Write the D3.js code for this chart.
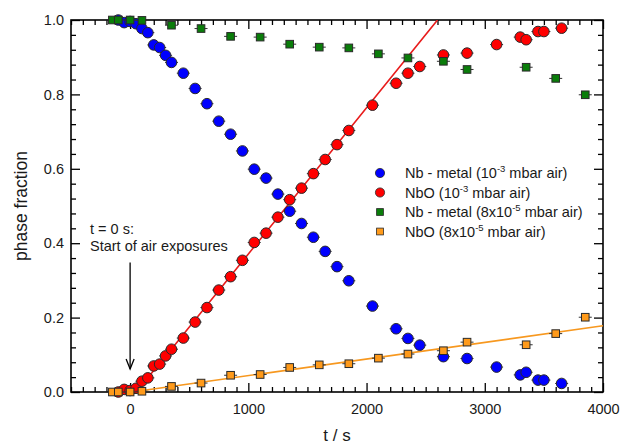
<!DOCTYPE html>
<html>
<head>
<meta charset="utf-8">
<script src="https://cdn.jsdelivr.net/npm/d3@7"></script>
<style>
  html, body { margin: 0; padding: 0; background: #fff; }
  svg { display: block; font-family: "Liberation Sans", Arial, sans-serif; }
</style>
</head>
<body>
<svg id="chart" width="620" height="446"></svg>
<script>
// ---- data: phase fractions during air exposure ----
// exposure at 1e-3 mbar air
const tHigh = [-100, -50, 0, 50, 100, 150, 200, 250, 300, 350, 450, 550, 650, 750, 850, 950,
  1050, 1150, 1250, 1350, 1450, 1550, 1650, 1750, 1850, 2050, 2250, 2350, 2450, 2650, 2850,
  3100, 3300, 3350, 3450, 3500, 3650];
const nbMetalHigh = [1.0, 0.993, 0.996, 0.99, 0.977, 0.966, 0.933, 0.926, 0.905, 0.886, 0.857,
  0.816, 0.775, 0.728, 0.693, 0.648, 0.599, 0.575, 0.532, 0.486, 0.453, 0.416, 0.378, 0.337,
  0.299, 0.231, 0.170, 0.144, 0.126, 0.095, 0.090, 0.067, 0.046, 0.053, 0.032, 0.032, 0.023];
const nboHigh = [0.0, 0.007, 0.004, 0.01, 0.029, 0.038, 0.07, 0.075, 0.097, 0.115, 0.145,
  0.188, 0.227, 0.274, 0.31, 0.354, 0.402, 0.427, 0.47, 0.517, 0.548, 0.587, 0.625, 0.665,
  0.703, 0.771, 0.83, 0.857, 0.875, 0.906, 0.911, 0.934, 0.954, 0.947, 0.969, 0.969, 0.978];

// exposure at 8e-5 mbar air
const tLow = [-150, -100, 0, 100, 350, 600, 850, 1100, 1350, 1600, 1850, 2100, 2350, 2650,
  2850, 3350, 3600, 3850];
const nbMetalLow = [1.0, 1.0, 1.0, 0.999, 0.986, 0.977, 0.956, 0.954, 0.935, 0.927, 0.925,
  0.909, 0.898, 0.889, 0.867, 0.873, 0.843, 0.799];
const nboLow = [0.0, 0.0, 0.0, 0.002, 0.015, 0.024, 0.045, 0.047, 0.066, 0.073, 0.076, 0.091,
  0.102, 0.111, 0.134, 0.127, 0.157, 0.201];

// fitted growth curves for NbO
const fitHighT = [20, 100, 200, 300, 400, 2600];
const fitHighF = [0.0, 0.02, 0.058, 0.096, 0.135, 1.0];
const fitLowT = [15, 4000];
const fitLowF = [0.0, 0.178];

// axis ticks
const xMajor = [0, 1000, 2000, 3000, 4000];
const yMajor = [0, 0.2, 0.4, 0.6, 0.8, 1.0];
const yMajorLabels = ["0.0", "0.2", "0.4", "0.6", "0.8", "1.0"];

const seriesNames = [
  { base: "Nb - metal (10", sup: "-3", rest: " mbar air)" },
  { base: "NbO (10", sup: "-3", rest: " mbar air)" },
  { base: "Nb - metal (8x10", sup: "-5", rest: " mbar air)" },
  { base: "NbO (8x10", sup: "-5", rest: " mbar air)" }
];
const seriesColors = ["#0000ff", "#ff0000", "#0a7d0a", "#ff9a1a"];
const fitColors = ["#e81c1c", "#f7981f"];

// annotation: start of exposure
const annotT = 0;
const annotFrom = 0.348;
const annotTo = 0.062;

// ---- drawing ----
const svg = d3.select("#chart");
const L = 71, R = 603, T = 20, B = 392;
const x = d3.scaleLinear().domain([-500, 4000]).range([L, R]);
const y = d3.scaleLinear().domain([0, 1]).range([B, T]);

const xMinor = d3.range(-500, 4001, 100).filter(v => !xMajor.includes(v));
const yMinor = d3.range(0, 26).map(i => +(i * 0.04).toFixed(2)).filter(v => !yMajor.some(m => Math.abs(m - v) < 1e-9));

function styleAxis(g) {
  g.select(".domain").remove();
  g.selectAll(".tick line").attr("stroke", "#000").attr("stroke-width", 1.3);
  g.selectAll(".tick text").attr("fill", "#1a1a1a").attr("font-size", 14.5)
    .attr("font-family", "'Liberation Sans', Arial, sans-serif");
}

// minor ticks (inward)
svg.append("g").attr("transform", `translate(0,${B})`)
  .call(d3.axisBottom(x).tickValues(xMinor).tickSize(-5).tickFormat("")).call(styleAxis);
svg.append("g").attr("transform", `translate(0,${T})`)
  .call(d3.axisTop(x).tickValues(xMinor).tickSize(-5).tickFormat("")).call(styleAxis);
svg.append("g").attr("transform", `translate(${L},0)`)
  .call(d3.axisLeft(y).tickValues(yMinor).tickSize(-5).tickFormat("")).call(styleAxis);
svg.append("g").attr("transform", `translate(${R},0)`)
  .call(d3.axisRight(y).tickValues(yMinor).tickSize(-5).tickFormat("")).call(styleAxis);

// major ticks with labels
svg.append("g").attr("transform", `translate(0,${B})`)
  .call(d3.axisBottom(x).tickValues(xMajor).tickSize(-9).tickPadding(12).tickFormat(d3.format("d")))
  .call(styleAxis);
svg.append("g").attr("transform", `translate(0,${T})`)
  .call(d3.axisTop(x).tickValues(xMajor).tickSize(-9).tickFormat("")).call(styleAxis);
svg.append("g").attr("transform", `translate(${L},0)`)
  .call(d3.axisLeft(y).tickValues(yMajor).tickSize(-9).tickPadding(7).tickFormat((d, i) => yMajorLabels[i]))
  .call(styleAxis);
svg.append("g").attr("transform", `translate(${R},0)`)
  .call(d3.axisRight(y).tickValues(yMajor).tickSize(-9).tickFormat("")).call(styleAxis);

// frame
svg.append("rect").attr("x", L).attr("y", T).attr("width", R - L).attr("height", B - T)
  .attr("fill", "none").attr("stroke", "#000").attr("stroke-width", 1.6);

// axis titles
svg.append("text").attr("x", (L + R) / 2).attr("y", 441).attr("text-anchor", "middle")
  .attr("font-size", 17).attr("fill", "#1a1a1a").text("t / s");
svg.append("text").attr("transform", `translate(27,${(T + B) / 2}) rotate(-90)`)
  .attr("text-anchor", "middle").attr("font-size", 17.5).attr("fill", "#1a1a1a").text("phase fraction");

// plot clip
svg.append("clipPath").attr("id", "clip").append("rect")
  .attr("x", L).attr("y", T).attr("width", R - L).attr("height", B - T);

const plot = svg.append("g");

// fit curves
const line = d3.line().x(d => x(d[0])).y(d => y(d[1]));
plot.append("path").attr("clip-path", "url(#clip)")
  .datum(d3.zip(fitLowT, fitLowF)).attr("d", line)
  .attr("fill", "none").attr("stroke", fitColors[1]).attr("stroke-width", 1.6);
plot.append("path").attr("clip-path", "url(#clip)")
  .datum(d3.zip(fitHighT, fitHighF)).attr("d", d3.line().curve(d3.curveMonotoneX).x(d => x(d[0])).y(d => y(d[1])))
  .attr("fill", "none").attr("stroke", fitColors[0]).attr("stroke-width", 1.6);

// error whiskers in time
const tErr = 55;
function whiskers(ts, vs) {
  plot.append("g").selectAll("line").data(d3.zip(ts, vs)).join("line")
    .attr("x1", d => x(d[0] - tErr)).attr("x2", d => x(d[0] + tErr))
    .attr("y1", d => y(d[1])).attr("y2", d => y(d[1]))
    .attr("stroke", "#333").attr("stroke-width", 1);
}

function circles(ts, vs, color) {
  whiskers(ts, vs);
  plot.append("g").selectAll("circle").data(d3.zip(ts, vs)).join("circle")
    .attr("cx", d => x(d[0])).attr("cy", d => y(d[1])).attr("r", 5.3)
    .attr("fill", color).attr("stroke", "#2a2a2a").attr("stroke-width", 1);
}
function squares(ts, vs, color) {
  whiskers(ts, vs);
  const s = 7.6;
  plot.append("g").selectAll("rect").data(d3.zip(ts, vs)).join("rect")
    .attr("x", d => x(d[0]) - s / 2).attr("y", d => y(d[1]) - s / 2)
    .attr("width", s).attr("height", s)
    .attr("fill", color).attr("stroke", "#2a2a2a").attr("stroke-width", 1);
}

circles(tHigh, nboHigh, seriesColors[1]);
circles(tHigh, nbMetalHigh, seriesColors[0]);
squares(tLow, nboLow, seriesColors[3]);
squares(tLow, nbMetalLow, seriesColors[2]);

// annotation
const ann = svg.append("g").attr("font-size", 14.5).attr("fill", "#1a1a1a");
ann.append("text").attr("x", 90).attr("y", 234).text("t = 0 s:");
ann.append("text").attr("x", 90).attr("y", 251).text("Start of air exposures");
const ax = x(annotT), ay0 = y(annotFrom), ay1 = y(annotTo);
ann.append("line").attr("x1", ax).attr("x2", ax).attr("y1", ay0).attr("y2", ay1)
  .attr("stroke", "#000").attr("stroke-width", 1.3);
ann.append("path").attr("d", `M${ax - 4},${ay1 - 10} L${ax},${ay1} L${ax + 4},${ay1 - 10}`)
  .attr("fill", "none").attr("stroke", "#000").attr("stroke-width", 1.3);

// legend
const leg = svg.append("g").attr("font-size", 14.5).attr("fill", "#1a1a1a");
const legY0 = 173, legDy = 19.5;
seriesNames.forEach((s, i) => {
  const cy = legY0 + i * legDy;
  if (i < 2) {
    leg.append("circle").attr("cx", 380).attr("cy", cy).attr("r", 4.6)
      .attr("fill", seriesColors[i]).attr("stroke", "#2a2a2a").attr("stroke-width", 0.8);
  } else {
    leg.append("rect").attr("x", 380 - 3.4).attr("y", cy - 3.4).attr("width", 6.8).attr("height", 6.8)
      .attr("fill", seriesColors[i]).attr("stroke", "#2a2a2a").attr("stroke-width", 0.8);
  }
  const t = leg.append("text").attr("x", 405).attr("y", cy + 5);
  t.append("tspan").text(s.base);
  t.append("tspan").attr("dy", -6).attr("font-size", 9.5).text(s.sup);
  t.append("tspan").attr("dy", 6).text(s.rest);
});
</script>
</body>
</html>
